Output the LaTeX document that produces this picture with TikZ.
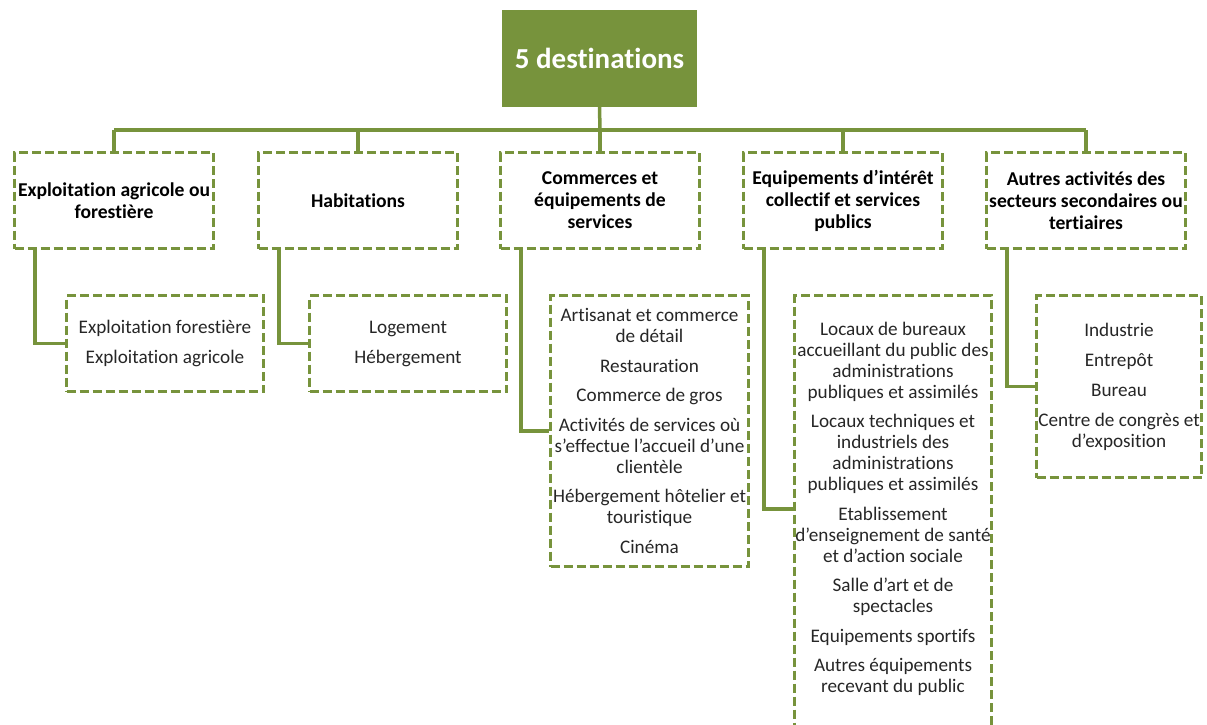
\documentclass[tikz,border=0pt]{standalone}
\usepackage{fontspec}
\setmainfont{Carlito}[Ligatures=NoCommon]
\usetikzlibrary{calc}
\definecolor{dgreen}{HTML}{77933C}
\definecolor{txt}{HTML}{262626}
\begin{document}
\begin{tikzpicture}[x=1pt,y=-1pt,
 dbox/.style={draw=dgreen, line width=3.3pt, dash pattern=on 9pt off 4pt, inner sep=0pt},
 cat/.style={dbox, minimum width=199pt, minimum height=96pt, font=\fontsize{19.6}{22}\selectfont\bfseries, align=center, text=black},
 subtext/.style={align=center, text=txt, font=\fontsize{19.2}{21}\selectfont, inner sep=0pt},
 sub/.style={dbox, subtext, minimum width=197pt},
 conn/.style={draw=dgreen, line width=3.5pt},
]
\useasboundingbox (0,0) rectangle (1207,724);
\clip (0,0) rectangle (1207,724);

\node[fill=dgreen, minimum width=195pt, minimum height=97pt, inner sep=0pt, text=white, font=\fontsize{29}{34}\selectfont\bfseries] (title) at (599.5,58.5) {5 destinations};

\node[cat] (c1) at (114,200.5) {Exploitation agricole ou\\forestière};
\node[cat] (c2) at (358,200.5) {Habitations};
\node[cat] (c3) at (600,200.5) {Commerces et\\équipements de\\services};
\node[cat] (c4) at (843,200.5) {Equipements d’intérêt\\collectif et services\\publics};
\node[cat] (c5) at (1086,200.5) {Autres activités des\\secteurs secondaires ou\\tertiaires};

\coordinate (bar) at (600,130);
\draw[conn] (title.south) -- (bar);
\draw[conn] (c1.north |- bar) -- (c5.north |- bar);
\foreach \i in {1,...,5} \draw[conn] (c\i.north |- bar) -- (c\i.north);

\node[sub, minimum height=96pt] (s1) at (165,343.5) {Exploitation forestière\\[9pt]Exploitation agricole};
\node[sub, minimum height=96pt] (s2) at (408,343.5) {Logement\\[9pt]Hébergement};
\node[sub, minimum width=198pt, minimum height=271pt] (s3) at (649.5,431) {Artisanat et commerce\\de détail\\[8.5pt]Restauration\\[8.5pt]Commerce de gros\\[8.5pt]Activités de services où\\s’effectue l’accueil d’une\\clientèle\\[8.5pt]Hébergement hôtelier et\\touristique\\[8.5pt]Cinéma};
\node[dbox, minimum width=197pt, minimum height=440pt, anchor=north] (s4) at (893,294) {};
\node[subtext] (s4t) at (893,509) {Locaux de bureaux\\accueillant du public des\\administrations\\publiques et assimilés\\[8.5pt]Locaux techniques et\\industriels des\\administrations\\publiques et assimilés\\[8.5pt]Etablissement\\d’enseignement de santé\\et d’action sociale\\[8.5pt]Salle d’art et de\\spectacles\\[8.5pt]Equipements sportifs\\[8.5pt]Autres équipements\\recevant du public};
\node[sub, minimum width=165pt, minimum height=182pt] (s5) at (1119,386.5) {Industrie\\[9pt]Entrepôt\\[9pt]Bureau\\[9pt]Centre de congrès et\\d’exposition};

\draw[conn] ([xshift=22pt]c1.south west) |- (s1.west);
\draw[conn] ([xshift=22pt]c2.south west) |- (s2.west);
\draw[conn] ([xshift=22pt]c3.south west) |- (s3.west);
\draw[conn] ([xshift=22pt]c4.south west) |- (s4t.west -| s4.west);
\draw[conn] ([xshift=22pt]c5.south west) |- (s5.west);
\end{tikzpicture}
\end{document}
